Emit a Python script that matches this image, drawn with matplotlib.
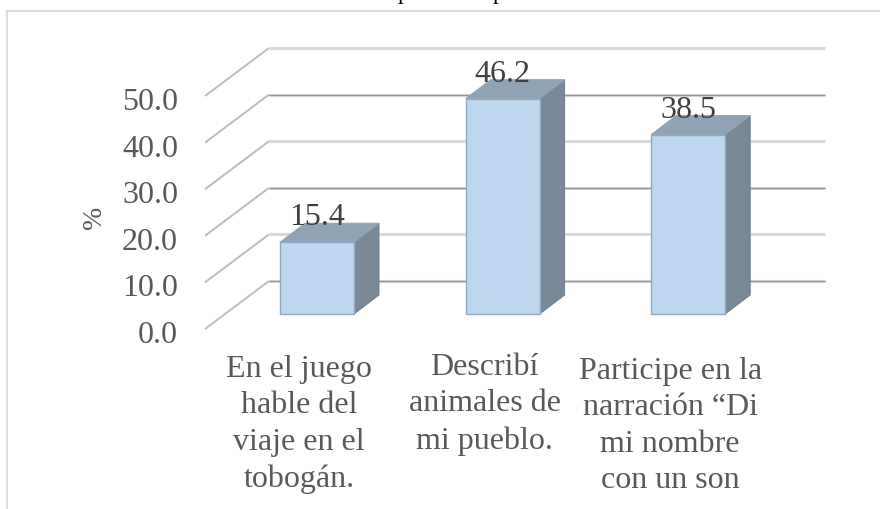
"""3D-look column chart, front faces on the value scale, depth drawn as polygons."""
import matplotlib
matplotlib.use("Agg")
import matplotlib.pyplot as plt
from matplotlib.lines import Line2D
from matplotlib.patches import Polygon

plt.rcParams["font.family"] = ["Liberation Serif", "DejaVu Sans"]

categories = [
    "En el juego\nhable del\nviaje en el\ntobogán.",
    "Describí\nanimales de\nmi pueblo.",
    "Participe en la\nnarración “Di\nmi nombre\ncon un son",
]
values = [15.4, 46.2, 38.5]
ticks = [0, 10, 20, 30, 40, 50]

W, H = 880, 510
X0, XSTEP = 317, 185.6   # pixel of category 0, pixels per category
Y0, YSTEP = 315, 4.66    # pixel of value 0, pixels per value unit


def dx(px):
    return px / XSTEP


def dy(px):
    return px / YSTEP


fig = plt.figure(figsize=(W / 100, H / 100), dpi=100)
ax = fig.add_axes([0, 0, 1, 1])
ax.set_xlim(-X0 / XSTEP, (W - X0) / XSTEP)
ax.set_ylim(-(H - Y0) / YSTEP, Y0 / YSTEP)
ax.axis("off")

# chart frame (only top and left show in the crop)
frame = dict(color="#d9d9d9", lw=1.3, transform=fig.transFigure)
fig.add_artist(Line2D([6.5 / W, 6.5 / W], [0, 1 - 12 / H], **frame))
fig.add_artist(Line2D([6.5 / W, 1], [1 - 12 / H, 1 - 12 / H], **frame))

# title is cut off by the crop, only the descenders are left
for px in [403, 498]:
    ax.text(dx(px - X0), dy(Y0 + 1), "p", fontsize=17, color="black",
            ha="center", va="baseline")

# walls: floor diagonal then the back gridline
x_front, x_back, x_end = dx(205 - X0), dx(269 - X0), dx(825 - X0)
for i, t in enumerate(ticks):
    y_front, y_back = t - dy(15), t + dy(33)
    ax.plot([x_front, x_back], [y_front, y_back], color="#bdbdbd", lw=1.4,
            zorder=1, solid_capstyle="butt")
    ax.plot([x_back, x_end], [y_back, y_back], color="#d9d9d9", lw=2.2,
            zorder=1, solid_capstyle="butt")
    if i % 2 == 0:
        ax.plot([x_back, x_end], [y_back, y_back], color="#969696", lw=0.9,
                zorder=1.1, solid_capstyle="butt")

# bars
half = dx(37)
ox, oy = dx(25), dy(19)
for i, v in enumerate(values):
    l, r = i - half, i + half
    ax.add_patch(Polygon([(r, 0), (r + ox, oy), (r + ox, v + oy), (r, v)],
                         facecolor="#7a8997", edgecolor="#6f7e8c", lw=0.7, zorder=3))
    ax.add_patch(Polygon([(l, v), (l + ox, v + oy), (r + ox, v + oy), (r, v)],
                         facecolor="#8fa3b5", edgecolor="#8fa3b5", lw=0.7, zorder=3))
    ax.bar(i, v, width=2 * half, color="#bdd7ee", edgecolor="#8ea9c1", lw=1.0, zorder=4)
    ax.text(i, v + dy(18), f"{v:.1f}", fontsize=23, color="#404040",
            ha="center", va="baseline", zorder=5)

# value labels
for t in ticks:
    ax.text(dx(178 - X0), t - dy(17), f"{t:.1f}", fontsize=23, color="#595959",
            ha="right", va="center_baseline")
ax.text(dx(94 - X0), dy(Y0 - 217), "%", fontsize=20, color="#595959", rotation=90,
        ha="center", va="center")

# category labels
label_top = [355, 353, 357]
for i, c in enumerate(categories):
    ax.text(i - dx(18), dy(Y0 - label_top[i]), c, fontsize=23, color="#595959",
            ha="center", va="top", linespacing=1.34, multialignment="center")

fig.savefig("out.png", dpi=100)
